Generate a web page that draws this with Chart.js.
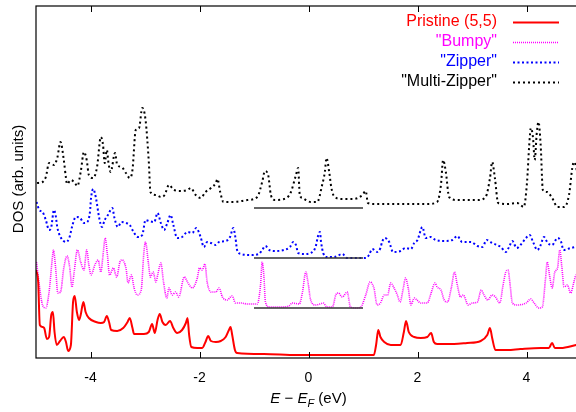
<!DOCTYPE html>
<html>
<head>
<meta charset="utf-8">
<script src="https://cdn.jsdelivr.net/npm/chart.js@4"></script>
<style>
  html, body { margin: 0; padding: 0; background: #fff; overflow: hidden; }
  #wrap { width: 576px; height: 412px; overflow: hidden; }
  canvas { display: block; }
</style>
</head>
<body>
<div id="wrap"><canvas id="dos" width="582" height="412"></canvas></div>
<script>
// energies (eV, relative to E_F) and stacked DOS
const rdX = [-5.00,-4.96,-4.93,-4.88,-4.85,-4.80,-4.76,-4.72,-4.69,-4.66,-4.62,-4.56,-4.49,-4.45,-4.41,-4.36,-4.32,-4.29,-4.25,-4.21,-4.18,-4.13,-4.09,-4.03,-3.90,-3.81,-3.75,-3.70,-3.66,-3.62,-3.51,-3.40,-3.32,-3.28,-3.23,-3.20,-3.02,-2.93,-2.87,-2.82,-2.77,-2.73,-2.68,-2.62,-2.54,-2.48,-2.41,-2.32,-2.25,-2.22,-2.19,-2.15,-2.04,-1.95,-1.89,-1.84,-1.79,-1.70,-1.61,-1.52,-1.46,-1.43,-1.40,-1.35,-1.31,-0.82,-0.21,0.41,1.20,1.24,1.28,1.32,1.39,1.51,1.61,1.69,1.75,1.79,1.84,1.94,2.06,2.18,2.25,2.30,2.36,2.67,2.91,3.16,3.28,3.33,3.37,3.43,3.65,3.89,4.26,4.41,4.47,4.52,4.63,4.91,5.00];
const rdY = [8.8,7.6,3.3,3.1,3.0,1.9,2.1,4.3,4.6,2.6,1.3,1.7,2.1,1.6,0.7,1.3,5.6,6.2,4.6,3.8,4.3,5.6,4.6,4.0,3.6,3.5,3.6,4.2,3.6,2.8,2.7,3.0,3.6,4.0,3.0,2.4,2.4,2.6,3.4,2.5,3.8,4.4,3.6,3.3,3.7,3.0,2.5,2.8,3.5,4.0,2.3,1.1,1.0,1.0,1.6,2.2,1.7,1.6,1.7,2.1,2.8,3.1,2.3,0.8,0.5,0.4,0.3,0.3,0.3,1.3,2.8,2.1,1.6,1.3,1.3,1.3,2.6,3.7,2.6,2.1,2.0,2.1,2.5,1.6,1.4,1.4,1.5,1.7,2.3,3.0,2.0,0.8,0.8,0.9,1.0,1.0,1.5,1.0,1.0,1.3,1.4];

const mgX = [-4.99,-4.94,-4.88,-4.82,-4.76,-4.70,-4.68,-4.64,-4.60,-4.55,-4.49,-4.43,-4.38,-4.34,-4.30,-4.24,-4.18,-4.12,-4.07,-4.03,-3.99,-3.92,-3.86,-3.81,-3.77,-3.73,-3.69,-3.65,-3.58,-3.52,-3.46,-3.42,-3.35,-3.31,-3.25,-3.20,-3.14,-3.07,-3.02,-2.99,-2.94,-2.90,-2.85,-2.80,-2.76,-2.71,-2.66,-2.60,-2.56,-2.50,-2.44,-2.38,-2.28,-2.21,-2.13,-2.04,-2.00,-1.95,-1.90,-1.86,-1.79,-1.70,-1.64,-1.58,-1.49,-1.43,-1.40,-1.34,-1.24,-1.12,-0.94,-0.88,-0.85,-0.82,-0.79,-0.72,-0.51,-0.36,-0.30,-0.17,-0.11,-0.05,-0.01,0.04,0.13,0.21,0.27,0.34,0.44,0.50,0.55,0.62,0.71,0.77,0.87,0.96,1.05,1.13,1.20,1.26,1.32,1.39,1.45,1.51,1.57,1.63,1.68,1.74,1.78,1.83,1.88,1.94,1.99,2.06,2.18,2.25,2.32,2.36,2.43,2.49,2.55,2.62,2.68,2.73,2.79,2.84,2.93,3.01,3.10,3.17,3.22,3.29,3.37,3.43,3.51,3.57,3.62,3.66,3.70,3.74,3.83,3.99,4.08,4.14,4.23,4.29,4.35,4.38,4.43,4.47,4.52,4.57,4.61,4.65,4.69,4.75,4.81,4.87,4.91,5.00];
const mgY = [9.6,7.3,5.3,5.0,6.6,10.0,10.8,9.0,6.5,6.6,9.0,10.2,9.0,7.1,8.6,10.8,9.6,8.8,10.8,9.3,8.3,9.3,9.8,8.6,10.3,12.0,10.3,8.3,9.0,8.1,9.6,9.8,9.0,7.5,8.3,7.0,6.3,6.8,10.6,11.6,9.6,8.1,8.6,7.6,8.5,9.5,7.6,6.0,7.0,6.3,6.6,6.1,8.1,7.5,7.0,8.0,9.0,8.8,9.4,7.6,6.6,6.6,7.0,6.1,5.8,6.1,6.2,5.5,5.5,5.4,5.4,7.3,9.6,8.3,5.6,5.1,5.1,5.2,5.5,5.4,6.6,8.6,7.6,5.8,5.3,5.4,5.5,5.1,5.1,6.3,6.5,6.1,6.6,5.1,5.0,5.1,6.3,7.6,7.0,5.3,5.5,6.3,6.3,7.5,7.0,6.3,5.6,7.0,8.0,7.0,5.3,6.0,5.8,5.5,5.5,6.5,7.5,7.1,6.8,5.8,5.6,7.0,8.6,7.3,6.1,6.3,5.3,5.5,5.6,6.8,6.3,5.8,6.3,6.1,5.5,7.3,8.6,8.8,7.3,5.5,5.3,5.5,5.9,5.5,5.0,5.1,8.0,9.6,8.0,7.0,8.6,9.0,10.8,9.0,7.1,7.3,6.5,7.6,8.3,7.5];

const buX = [-4.99,-4.94,-4.88,-4.82,-4.76,-4.72,-4.67,-4.64,-4.61,-4.55,-4.45,-4.39,-4.33,-4.27,-4.19,-4.12,-4.06,-4.01,-3.99,-3.95,-3.90,-3.84,-3.79,-3.74,-3.68,-3.60,-3.56,-3.50,-3.43,-3.35,-3.28,-3.21,-3.13,-3.05,-2.99,-2.93,-2.83,-2.77,-2.71,-2.65,-2.59,-2.53,-2.48,-2.41,-2.32,-2.22,-2.13,-2.06,-1.98,-1.92,-1.86,-1.79,-1.70,-1.64,-1.52,-1.44,-1.38,-1.34,-1.31,-1.24,-1.06,-0.91,-0.85,-0.79,-0.72,-0.60,-0.45,-0.34,-0.28,-0.23,-0.19,-0.08,0.04,0.13,0.17,0.21,0.23,0.27,0.32,0.47,0.62,0.71,1.05,1.11,1.17,1.26,1.32,1.35,1.40,1.48,1.55,1.69,1.78,1.88,1.94,2.00,2.09,2.15,2.24,2.33,2.49,2.64,2.73,2.82,2.98,3.10,3.19,3.27,3.37,3.53,3.62,3.68,3.74,3.82,3.89,3.99,4.06,4.12,4.20,4.26,4.32,4.39,4.47,4.57,4.63,4.68,4.81,4.90,5.00];
const buY = [15.6,14.8,14.6,13.8,12.8,13.1,14.8,14.3,13.1,12.1,11.6,12.0,13.3,14.1,14.0,13.5,13.6,14.6,16.0,16.9,16.0,14.0,13.1,13.8,14.3,15.0,14.0,13.1,13.6,13.5,13.3,12.6,12.1,12.3,13.8,13.7,13.6,14.5,13.5,12.8,13.5,14.3,13.3,12.0,12.1,12.6,12.5,13.0,12.1,11.1,11.6,11.5,11.3,11.6,11.7,12.1,13.0,12.0,10.8,10.4,10.3,10.4,10.8,11.2,10.8,10.7,10.8,11.1,11.6,11.3,10.5,10.4,10.5,11.1,12.1,12.6,11.6,10.5,10.1,10.1,10.4,10.0,10.0,10.3,10.9,10.6,11.0,11.6,12.0,11.6,10.6,10.7,11.0,10.9,11.5,11.8,13.1,12.0,12.1,11.8,11.7,11.8,12.2,11.6,11.6,11.2,11.1,11.8,11.5,11.1,10.6,11.1,11.7,11.0,11.3,12.0,12.3,11.6,10.8,11.3,12.1,11.5,11.3,12.0,11.7,10.8,11.0,11.1,11.3];

const bkX = [-4.98,-4.88,-4.82,-4.76,-4.67,-4.61,-4.55,-4.49,-4.45,-4.43,-4.36,-4.30,-4.24,-4.18,-4.12,-4.07,-4.03,-3.95,-3.88,-3.81,-3.77,-3.74,-3.70,-3.67,-3.63,-3.55,-3.51,-3.43,-3.35,-3.28,-3.23,-3.17,-3.11,-3.05,-2.99,-2.93,-2.90,-2.80,-2.71,-2.64,-2.56,-2.47,-2.34,-2.22,-2.16,-2.07,-1.98,-1.89,-1.79,-1.70,-1.67,-1.62,-1.56,-1.37,-1.12,-0.94,-0.85,-0.80,-0.74,-0.69,-0.62,-0.45,-0.33,-0.23,-0.19,-0.16,-0.11,-0.05,0.04,0.16,0.25,0.30,0.33,0.38,0.42,0.48,0.62,0.83,0.99,1.05,1.09,1.20,1.60,2.18,2.36,2.43,2.47,2.52,2.58,2.73,3.10,3.25,3.33,3.37,3.42,3.48,3.65,3.83,3.89,3.95,4.01,4.05,4.08,4.12,4.15,4.19,4.22,4.26,4.30,4.38,4.47,4.57,4.69,4.78,4.84,4.87,4.91,4.96,5.00];
const bkY = [17.5,17.6,18.1,19.5,19.3,20.0,21.6,19.8,18.0,17.4,17.8,17.6,17.2,18.6,20.6,19.8,18.3,18.0,19.1,22.1,21.3,19.5,20.8,19.5,18.6,20.5,19.3,19.1,18.5,18.0,18.8,22.8,23.0,25.0,23.8,19.6,16.6,16.3,16.1,16.3,17.3,16.8,16.7,16.8,17.0,16.3,16.0,16.6,17.0,17.5,17.9,16.6,15.6,15.6,15.8,16.1,17.6,18.7,18.3,16.3,15.8,15.9,16.5,18.3,19.0,16.3,16.0,15.8,15.6,15.6,17.3,18.6,20.0,18.6,17.0,16.1,15.9,15.9,16.3,16.7,15.5,15.4,15.4,15.4,15.6,17.3,19.8,18.6,16.1,15.8,15.8,16.1,18.0,19.6,18.0,15.5,15.4,15.5,15.3,15.1,17.6,21.3,23.0,22.0,19.8,22.6,23.6,21.3,16.8,16.6,16.0,15.1,15.1,16.3,19.0,19.6,19.1,17.5,16.5];

// zero levels of the shifted curves, marked between -1 and 1 eV
const refLevels = [5, 10, 15];
const refSpan = [-1, 1];

const seriesNames = ['Pristine (5,5)', '"Bumpy"', '"Zipper"', '"Multi-Zipper"'];
const xTickValues = [-4, -2, 0, 2, 4];

const FONT = '"Liberation Sans", Arial, Helvetica, sans-serif';

const pts = (xs, ys) => xs.map((x, i) => ({x: x, y: ys[i]}));

const curves = [
  {label: seriesNames[0], data: pts(rdX, rdY), borderColor: '#ff0000', borderWidth: 2, borderDash: []},
  {label: seriesNames[1], data: pts(mgX, mgY), borderColor: '#ff00ff', borderWidth: 1.6, borderDash: [1, 1]},
  {label: seriesNames[2], data: pts(buX, buY), borderColor: '#0000ff', borderWidth: 2, borderDash: [2, 2.5]},
  {label: seriesNames[3], data: pts(bkX, bkY), borderColor: '#000000', borderWidth: 2, borderDash: [2, 3]},
];

const refLines = refLevels.map(lv => ({
  label: '',
  isRef: true,
  data: refSpan.map(x => ({x: x, y: lv})),
  borderColor: '#333333',
  borderWidth: 1.5,
}));

const datasets = refLines.concat(curves).map(d => Object.assign({
  pointRadius: 0,
  fill: false,
  cubicInterpolationMode: 'monotone',
}, d));

// box, inward ticks, axis titles and legend
const decor = {
  id: 'decor',
  afterDraw(chart) {
    const ctx = chart.ctx;
    const a = chart.chartArea;
    const xs = chart.scales.x;
    ctx.save();
    ctx.strokeStyle = '#000';
    ctx.lineWidth = 1.2;
    ctx.strokeRect(a.left, a.top, a.right - a.left, a.bottom - a.top);
    ctx.lineWidth = 1;
    xTickValues.forEach(v => {
      const px = Math.round(xs.getPixelForValue(v)) + 0.5;
      ctx.beginPath();
      ctx.moveTo(px, a.bottom);
      ctx.lineTo(px, a.bottom - 6);
      ctx.moveTo(px, a.top);
      ctx.lineTo(px, a.top + 6);
      ctx.stroke();
    });

    // y title
    ctx.fillStyle = '#000';
    ctx.font = '15px ' + FONT;
    ctx.textAlign = 'center';
    ctx.textBaseline = 'middle';
    ctx.save();
    ctx.translate(19, (a.top + a.bottom) / 2 - 3);
    ctx.rotate(-Math.PI / 2);
    ctx.fillText('DOS (arb. units)', 0, 0);
    ctx.restore();

    // x title: E − E_F (eV)
    const parts = [
      ['E', 'italic 15px ' + FONT, 0],
      [' \u2212 ', '15px ' + FONT, 0],
      ['E', 'italic 15px ' + FONT, 0],
      ['F', 'italic 11px ' + FONT, 4],
      [' (eV)', '15px ' + FONT, 0],
    ];
    let total = 0;
    parts.forEach(p => { ctx.font = p[1]; total += ctx.measureText(p[0]).width; });
    let cx = xs.getPixelForValue(0) - total / 2;
    const ty = 403;
    ctx.textAlign = 'left';
    ctx.textBaseline = 'alphabetic';
    parts.forEach(p => {
      ctx.font = p[1];
      ctx.fillText(p[0], cx, ty + p[2]);
      cx += ctx.measureText(p[0]).width;
    });

    // legend, text right aligned, sample to the right
    let row = 0;
    chart.data.datasets.forEach(ds => {
      if (ds.isRef) return;
      const y = 22 + row * 20;
      ctx.font = '16px ' + FONT;
      ctx.textAlign = 'right';
      ctx.textBaseline = 'middle';
      ctx.fillStyle = ds.borderColor;
      ctx.fillText(ds.label, 497, y);
      ctx.strokeStyle = ds.borderColor;
      ctx.lineWidth = ds.borderWidth;
      ctx.setLineDash(ds.borderDash || []);
      ctx.beginPath();
      ctx.moveTo(513, y + 0.5);
      ctx.lineTo(559, y + 0.5);
      ctx.stroke();
      ctx.setLineDash([]);
      row++;
    });
    ctx.restore();
  }
};

new Chart(document.getElementById('dos'), {
  type: 'line',
  data: {datasets: datasets},
  plugins: [decor],
  options: {
    responsive: false,
    animation: false,
    layout: {padding: {top: 6, right: 1, left: 0, bottom: 0}},
    plugins: {legend: {display: false}, tooltip: {enabled: false}},
    scales: {
      x: {
        type: 'linear',
        min: -5,
        max: 5,
        grid: {display: false, drawTicks: false},
        border: {display: false},
        ticks: {font: {family: FONT, size: 14}, color: '#000', padding: 12, maxRotation: 0},
        afterBuildTicks: s => { s.ticks = xTickValues.map(v => ({value: v})); },
        afterFit: s => { s.height = 54; },
      },
      y: {
        min: 0,
        max: 35.2,
        grid: {display: false, drawTicks: false},
        border: {display: false},
        ticks: {display: false},
        afterFit: s => { s.width = 36; },
      }
    }
  }
});
</script>
</body>
</html>
